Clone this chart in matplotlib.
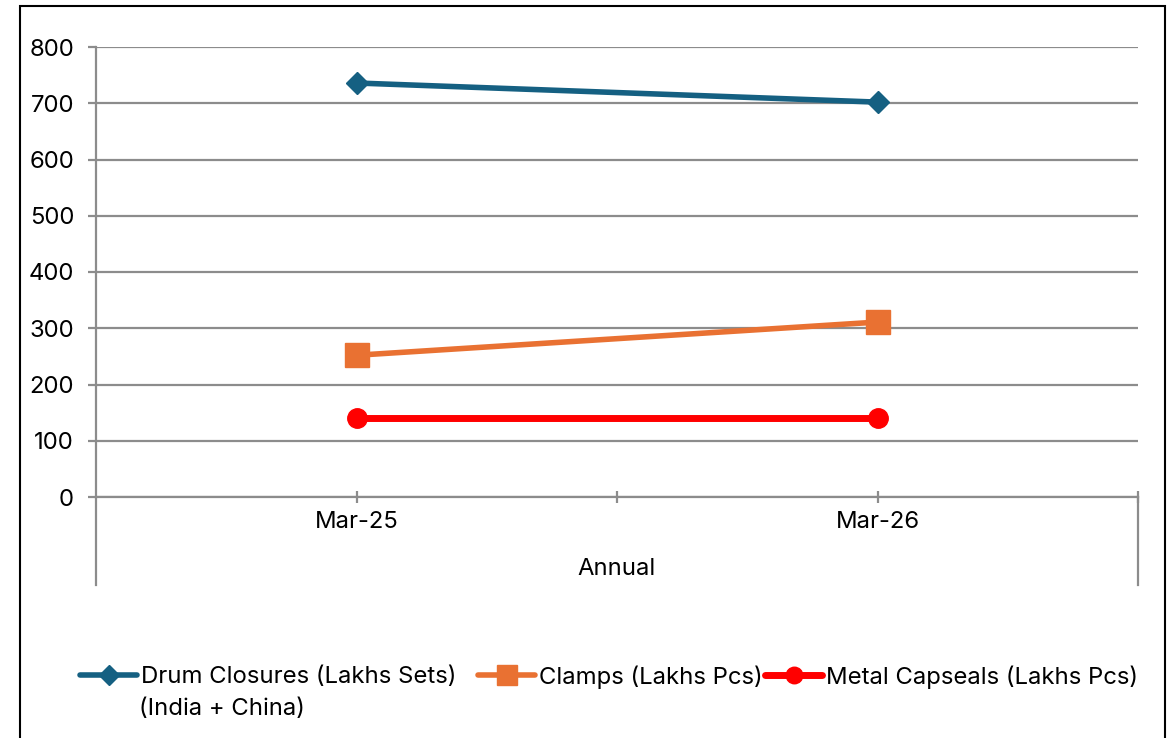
import matplotlib
matplotlib.use("Agg")
import matplotlib.pyplot as plt
from matplotlib.patches import Rectangle

plt.rcParams['font.family'] = ['Inter', 'DejaVu Sans']

# data
periods = ["Mar-25", "Mar-26"]
drum_closures = [736, 702]
clamps = [252, 311]
metal_capseals = [140, 140]
y_ticks = [0, 100, 200, 300, 400, 500, 600, 700, 800]
x_title = "Annual"
series_names = ["Drum Closures (Lakhs Sets)", "Clamps (Lakhs Pcs)", "Metal Capseals (Lakhs Pcs)"]
drum_note = "(India + China)"

blue = "#156082"
orange = "#E97132"
red = "#FF0000"
grey = "#8c8c8c"
fs = 17.2

fig = plt.figure(figsize=(11.75, 7.38), dpi=100)
W, H = 1175, 738
ax = fig.add_axes([96 / W, 1 - 497 / H, (1138 - 96) / W, (497 - 47) / H])

x = list(range(len(periods)))
h1, = ax.plot(x, drum_closures, color=blue, lw=4, marker="D", ms=11.5,
              solid_capstyle="round", clip_on=False, zorder=3)
h2, = ax.plot(x, clamps, color=orange, lw=4, marker="s", ms=17,
              solid_capstyle="round", clip_on=False, zorder=3)
h3, = ax.plot(x, metal_capseals, color=red, lw=5, marker="o", ms=14,
              solid_capstyle="round", clip_on=False, zorder=3)

ax.set_xlim(-0.5, len(periods) - 0.5)
ax.set_ylim(0, 800)
ax.set_yticks(y_ticks)
ax.set_xticks(x)
ax.set_xticklabels(periods)
ax.set_xticks([0.5, 1.5], minor=True)

for s in ["top", "right"]:
    ax.spines[s].set_visible(False)
for s in ["left", "bottom"]:
    ax.spines[s].set_color(grey)
    ax.spines[s].set_linewidth(1.6)

ax.yaxis.grid(True, color=grey, lw=1.6)
ax.set_axisbelow(True)
ax.tick_params(axis="y", direction="out", length=5.8, width=1.6, color=grey,
               pad=10, labelsize=fs)
ax.tick_params(axis="x", which="both", direction="inout", length=8.6, width=1.6,
               color=grey, pad=6, labelsize=fs)

# category group brackets below the axis
ext = -88 / 450
for xe in [-0.5, len(periods) - 0.5]:
    ax.plot([xe, xe], [0, ext], color=grey, lw=1.6, clip_on=False,
            transform=ax.get_xaxis_transform())
ax.text(0.5, -72 / 450, x_title, transform=ax.transAxes, ha="center", va="center",
        fontsize=fs)

# legend, one entry at a time like the original
handles = [h1, h2, h3]
starts = [80, 478, 765]
for hd, name, xs in zip(handles, series_names, starts):
    fig.legend([hd], [name], loc="center left",
               bbox_to_anchor=(xs / W, 1 - 677 / H), frameon=False,
               fontsize=fs, handlelength=2.4, handletextpad=0.15,
               borderpad=0, borderaxespad=0, markerscale=0.85)
fig.text(139 / W, 1 - 709 / H, drum_note, fontsize=fs, ha="left", va="center")

# outer border
fig.patches.append(Rectangle((20 / W, -0.05), (1165 - 20) / W, 1.05 - 6 / H,
                             transform=fig.transFigure, fill=False,
                             edgecolor="black", lw=1.5))

fig.savefig("out.png", dpi=100)
